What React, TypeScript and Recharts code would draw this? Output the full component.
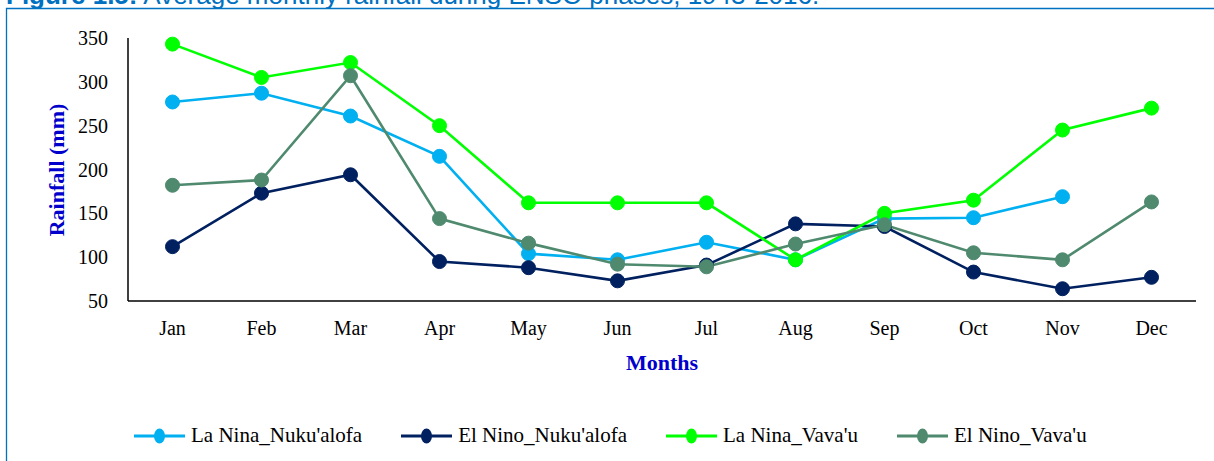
import { LineChart, Line, XAxis, YAxis } from 'recharts';

const months = ['Jan', 'Feb', 'Mar', 'Apr', 'May', 'Jun', 'Jul', 'Aug', 'Sep', 'Oct', 'Nov', 'Dec'];

const laNinaNuku = [277, 287, 261, 215, 104, 97, 117, 97, 144, 145, 169, null];
const elNinoNuku = [112, 173, 194, 95, 88, 73, 91, 138, 135, 83, 64, 77];
const laNinaVavau = [343, 305, 322, 250, 162, 162, 162, 97, 150, 165, 245, 270];
const elNinoVavau = [182, 188, 307, 144, 116, 92, 89, 115, 137, 105, 97, 163];

const yTicks = [50, 100, 150, 200, 250, 300, 350];

const series = [
  { key: 'laNinaNuku', name: "La Nina_Nuku'alofa", color: '#00B0F0', values: laNinaNuku },
  { key: 'elNinoNuku', name: "El Nino_Nuku'alofa", color: '#002060', values: elNinoNuku },
  { key: 'laNinaVavau', name: "La Nina_Vava'u", color: '#00FF00', values: laNinaVavau },
  { key: 'elNinoVavau', name: "El Nino_Vava'u", color: '#4F8A6F', values: elNinoVavau },
];

const data = months.map((m, i) => {
  const row: Record<string, string | number | null> = { month: m };
  series.forEach((s) => { row[s.key] = s.values[i]; });
  return row;
});

const serif = 'Liberation Serif';
const tickStyle = { fontFamily: serif, fontSize: 20, fill: '#000' };

export default function App() {
  return (
    <div style={{ position: 'fixed', left: 0, top: 0, width: 1214, height: 461, overflow: 'hidden', background: '#fff' }}>
      <div style={{ position: 'absolute', left: 0, top: 0 }}>
        <LineChart width={1214} height={461} data={data} margin={{ top: 38, right: 18, bottom: 130, left: 68 }}>
          <XAxis
            dataKey="month"
            height={30}
            tickLine={false}
            tickMargin={14}
            axisLine={{ stroke: '#000', strokeWidth: 1.5 }}
            padding={{ left: 44.5, right: 44.5 }}
            tick={tickStyle}
            interval={0}
            label={{ value: 'Months', position: 'insideBottom', offset: -39, fill: '#0000CC', fontFamily: serif, fontSize: 22, fontWeight: 'bold' }}
          />
          <YAxis
            width={60}
            domain={[50, 350]}
            ticks={yTicks}
            tickLine={false}
            tickMargin={14}
            axisLine={{ stroke: '#000', strokeWidth: 1.5 }}
            tick={tickStyle}
          />
          {series.map((s) => (
            <Line
              key={s.key}
              dataKey={s.key}
              name={s.name}
              stroke={s.color}
              strokeWidth={2.6}
              dot={{ r: 7, fill: s.color, stroke: s.color, strokeWidth: 1 }}
              activeDot={false}
              isAnimationActive={false}
            />
          ))}
        </LineChart>
      </div>

      {/* title (clipped at the top), frame and y-axis title */}
      <svg width={1214} height={461} style={{ position: 'absolute', left: 0, top: 0, pointerEvents: 'none' }}>
        <text x={6} y={4} fontFamily="Liberation Sans" fontSize={26} fill="#0070C0">
          <tspan fontWeight="bold">Figure 1.5:</tspan>
          <tspan> Average monthly rainfall during ENSO phases, 1943-2016.</tspan>
        </text>
        <path d="M6.5 470 L6.5 8.5 L1220 8.5" fill="none" stroke="#0070C0" strokeWidth={1.3} />
        <text
          x={56}
          y={170}
          transform="rotate(-90 56 170)"
          textAnchor="middle"
          dominantBaseline="central"
          fontFamily={serif}
          fontSize={22}
          fontWeight="bold"
          fill="#0000CC"
        >
          Rainfall (mm)
        </text>
      </svg>

      {/* legend */}
      <div style={{ position: 'absolute', left: 134, top: 423, display: 'flex', gap: 39, alignItems: 'center', fontFamily: serif, fontSize: 21 }}>
        {series.map((s) => (
          <div key={s.key} style={{ display: 'flex', alignItems: 'center' }}>
            <svg width={51} height={24} style={{ marginRight: 6 }}>
              <line x1={0} y1={12} x2={51} y2={12} stroke={s.color} strokeWidth={3} />
              <ellipse cx={25.5} cy={12} rx={5.5} ry={7.5} fill={s.color} />
            </svg>
            <span style={{ color: '#000' }}>{s.name}</span>
          </div>
        ))}
      </div>
    </div>
  );
}
